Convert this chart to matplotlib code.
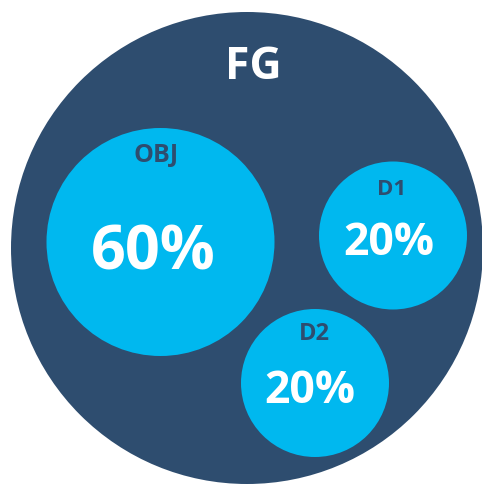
import matplotlib
matplotlib.use("Agg")
from matplotlib import pyplot as plt
from matplotlib.patches import Circle

# data
outer_label = "FG"
labels = ["OBJ", "D1", "D2"]
shares = [60, 20, 20]

# layout (pixels, y down)
outer_center = (247, 248)
outer_radius = 236
centers = [(160.5, 242), (393, 235.5), (315, 383)]
radii = [114, 74, 74]
label_pos = [(156, 162), (391.5, 195), (314, 340)]
value_pos = [(153.5, 269), (388.5, 255), (310, 403)]
label_sizes = [18, 16, 17]
value_sizes = [44, 32, 32]

dark = "#2E4D6F"
cyan = "#00B8EF"

plt.rcParams['font.family'] = ['Open Sans', 'DejaVu Sans']

fig = plt.figure(figsize=(4.82, 4.84), dpi=100)
ax = fig.add_axes([0, 0, 1, 1])
ax.set_xlim(0, 482)
ax.set_ylim(484, 0)
ax.set_aspect("equal")
ax.axis("off")

ax.add_patch(Circle(outer_center, outer_radius, color=dark, lw=0))
ax.text(253, 79, outer_label, color="white", fontsize=32, fontweight="bold",
        ha="center", va="baseline")

for i in range(len(labels)):
    ax.add_patch(Circle(centers[i], radii[i], color=cyan, lw=0))
    ax.text(label_pos[i][0], label_pos[i][1], labels[i], color=dark,
            fontsize=label_sizes[i], fontweight="bold", ha="center", va="baseline")
    ax.text(value_pos[i][0], value_pos[i][1], f"{shares[i]}%", color="white",
            fontsize=value_sizes[i], fontweight="bold", ha="center", va="baseline")

fig.savefig("out.png", dpi=100)
